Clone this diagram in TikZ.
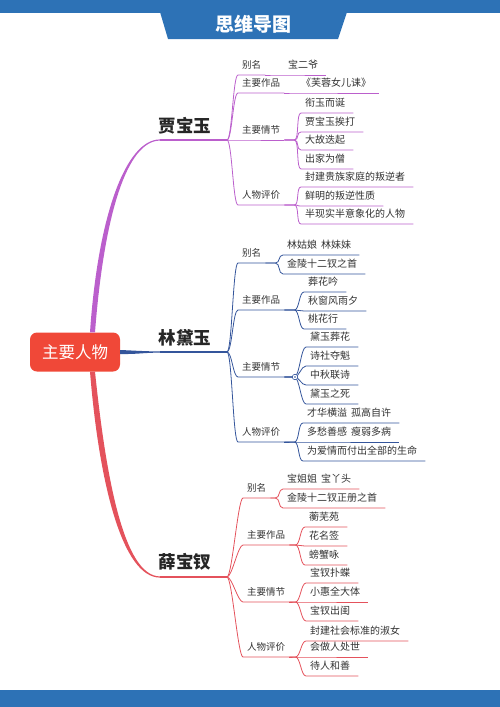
\documentclass[tikz,border=0pt]{standalone}
\usepackage{fontspec}
\setmainfont{Noto Sans CJK SC}
\usetikzlibrary{calc}
\definecolor{headblue}{RGB}{45,114,182}
\definecolor{hubred}{RGB}{240,72,56}
\definecolor{jiapurple}{RGB}{187,95,204}
\definecolor{linblue}{RGB}{52,85,155}
\definecolor{xuered}{RGB}{228,82,92}
\definecolor{inkgray}{RGB}{50,50,50}

\begin{document}
\begin{tikzpicture}[x=1pt, y=-1pt,
    hub/.style={fill=hubred, rounded corners=7pt, minimum width=90pt, minimum height=39pt,
        text=white, font=\fontsize{16.5}{18}\selectfont},
    who/.style={font=\fontsize{17.5}{20}\selectfont\bfseries, text=black!85, inner sep=0pt},
    cat/.style={anchor=south west, font=\fontsize{9.5}{11}\selectfont, text=inkgray,
        text height=7.6pt, text depth=1.9pt, inner xsep=4pt, inner ysep=4pt},
    leaf/.style={cat, font=\fontsize{10}{12}\selectfont, text height=8pt, text depth=2pt},
    lnk/.style={to path={.. controls +(#1,0) and +(-#1,0) .. (\tikztotarget)}}, lnk/.default=5,
    sublnk/.style={to path={-- ++(#1,0) .. controls +(5,0) and +(-5,0) .. (\tikztotarget)}}, sublnk/.default=10,
    twig/.style={line width=0.8pt}]

    \useasboundingbox (0,0) rectangle (500,707);

    % Header and footer bars
    \fill[headblue] (0,0) rectangle (500,13);
    \fill[headblue] (160,12) -- (347,12) -- (338,39) -- (168,39) -- cycle;
    \node[text=white, font=\fontsize{19}{21}\selectfont\bfseries] (title) at (253,24) {思维导图};
    \fill[headblue] (0,690) rectangle (500,707);

    % Centre topic
    \node[hub] (hub) at (75,352) {主要人物};

    % Character names
    \node[who] (jia) at (185,126) {贾宝玉};
    \node[who] (lin) at (185,338) {林黛玉};
    \node[who] (xue) at (185,562) {薛宝钗};
    \coordinate (jiaL) at (160,140); \coordinate (jiaR) at (227,140);
    \coordinate (linL) at (160,352); \coordinate (linR) at (227,352);
    \coordinate (xueL) at (160,577); \coordinate (xueR) at (227,577);

    % Main branches (tapered)
    \fill[jiapurple] ([xshift=15pt]hub.north) .. controls (98,215) and (126,139.4) .. ($(jiaL)+(0,-0.6)$)
        -- ($(jiaL)+(0,0.6)$) .. controls (127,140.6) and (104,215) .. ([xshift=20pt]hub.north) -- cycle;
    \draw[jiapurple, line width=1.2pt] (jiaL) -- (jiaR);
    \fill[linblue] ([yshift=2pt]hub.east) .. controls (135,350.6) and (145,351.4) .. ($(linL)+(0,-0.6)$)
        -- ($(linL)+(0,0.6)$) .. controls (145,352.6) and (135,354.4) .. ([yshift=-2pt]hub.east) -- cycle;
    \draw[linblue, line width=1.2pt] (linL) -- (linR);
    \fill[xuered] ([xshift=15pt]hub.south) .. controls (99,482) and (122,577.6) .. ($(xueL)+(0,0.6)$)
        -- ($(xueL)+(0,-0.6)$) .. controls (124,576.4) and (106,478) .. ([xshift=20pt]hub.south) -- cycle;
    \draw[xuered, line width=1.2pt] (xueL) -- (xueR);

    % Jia Baoyu
    \node[cat] (jb1) at (238,75) {别名};
    \node[cat] (jb2) at (238,93) {主要作品};
    \node[cat] (jb3) at (238,140) {主要情节};
    \node[cat] (jb4) at (238,205) {人物评价};
    \foreach \c in {jb1,jb2,jb3,jb4}
        \draw[twig, jiapurple] (jiaR) to[lnk] (\c.south west) -- (\c.south east);
    \node[leaf] (jb11) at (284,75) {宝二爷};
    \draw[twig, jiapurple] (jb1.south east) to[sublnk] (jb11.south west) -- ([xshift=4pt]jb11.south east);
    \node[leaf] (jb21) at (297,93) {《芙蓉女儿诔》};
    \draw[twig, jiapurple] (jb2.south east) to[sublnk] (jb21.south west) -- ([xshift=4pt]jb21.south east);
    \foreach \t/\y [count=\i] in {衔玉而诞/113, 贾宝玉挨打/132, 大故迭起/150, 出家为僧/169} {
        \node[leaf] (jb3\i) at (301,\y) {\t};
        \draw[twig, jiapurple] (jb3.south east) to[sublnk] (jb3\i.south west) -- ([xshift=4pt]jb3\i.south east);
    }
    \foreach \t/\y [count=\i] in {封建贵族家庭的叛逆者/187, 鲜明的叛逆性质/206, 半现实半意象化的人物/224} {
        \node[leaf] (jb4\i) at (301,\y) {\t};
        \draw[twig, jiapurple] (jb4.south east) to[sublnk] (jb4\i.south west) -- ([xshift=4pt]jb4\i.south east);
    }

    % Lin Daiyu
    \node[cat] (lb1) at (238,263) {别名};
    \node[cat] (lb2) at (238,310) {主要作品};
    \node[cat] (lb3) at (238,377) {主要情节};
    \node[cat] (lb4) at (238,442) {人物评价};
    \foreach \c in {lb1,lb2,lb3,lb4}
        \draw[twig, linblue] (linR) to[lnk] (\c.south west) -- (\c.south east);
    \foreach \t/\y [count=\i] in {林姑娘\hspace{4pt}林妹妹/255, 金陵十二钗之首/274} {
        \node[leaf] (lb1\i) at (283,\y) {\t};
        \draw[twig, linblue] (lb1.south east) to[sublnk] (lb1\i.south west) -- ([xshift=4pt]lb1\i.south east);
    }
    \foreach \t/\y [count=\i] in {葬花吟/292, 秋窗风雨夕/311, 桃花行/329} {
        \node[leaf] (lb2\i) at (304,\y) {\t};
        \draw[twig, linblue] (lb2.south east) to[sublnk] (lb2\i.south west) -- ([xshift=4pt]lb2\i.south east);
    }
    \foreach \t/\y [count=\i] in {黛玉葬花/347, 诗社夺魁/366, 中秋联诗/385, 黛玉之死/404} {
        \node[leaf] (lb3\i) at (306,\y) {\t};
        \draw[twig, linblue] (lb3.south east) to[sublnk] (lb3\i.south west) -- ([xshift=4pt]lb3\i.south east);
    }
    \foreach \t/\y [count=\i] in {才华横溢\hspace{4pt}孤高自许/423, 多愁善感\hspace{4pt}瘦弱多病/442, 为爱情而付出全部的生命/461} {
        \node[leaf] (lb4\i) at (303,\y) {\t};
        \draw[twig, linblue] (lb4.south east) to[sublnk] (lb4\i.south west) -- ([xshift=4pt]lb4\i.south east);
    }
    % fold marker
    \node[circle, draw=linblue, fill=white, line width=0.6pt, inner sep=0pt, minimum size=5.5pt] (fold) at (295,377) {};
    \fill[linblue] (fold) circle (0.8pt);

    % Xue Baochai
    \node[cat] (xb1) at (243,498) {别名};
    \node[cat] (xb2) at (243,545) {主要作品};
    \node[cat] (xb3) at (243,602) {主要情节};
    \node[cat] (xb4) at (243,657) {人物评价};
    \foreach \c in {xb1,xb2,xb3,xb4}
        \draw[twig, xuered] (xueR) to[lnk] (\c.south west) -- (\c.south east);
    \foreach \t/\y [count=\i] in {宝姐姐\hspace{4pt}宝丫头/489, 金陵十二钗正册之首/508} {
        \node[leaf] (xb1\i) at (283,\y) {\t};
        \draw[twig, xuered] (xb1.south east) to[sublnk=5] (xb1\i.south west) -- ([xshift=4pt]xb1\i.south east);
    }
    \foreach \t/\y [count=\i] in {蘅芜苑/527, 花名签/546, 螃蟹咏/565} {
        \node[leaf] (xb2\i) at (305,\y) {\t};
        \draw[twig, xuered] (xb2.south east) to[sublnk=6] (xb2\i.south west) -- ([xshift=4pt]xb2\i.south east);
    }
    \foreach \t/\y [count=\i] in {宝钗扑蝶/583, 小惠全大体/602, 宝钗出闺/621} {
        \node[leaf] (xb3\i) at (306,\y) {\t};
        \draw[twig, xuered] (xb3.south east) to[sublnk=6] (xb3\i.south west) -- ([xshift=4pt]xb3\i.south east);
    }
    \foreach \t/\y [count=\i] in {封建社会标准的淑女/641, 会做人处世/657, 待人和善/676} {
        \node[leaf] (xb4\i) at (306,\y) {\t};
        \draw[twig, xuered] (xb4.south east) to[sublnk=6] (xb4\i.south west) -- ([xshift=4pt]xb4\i.south east);
    }
\end{tikzpicture}
\end{document}
